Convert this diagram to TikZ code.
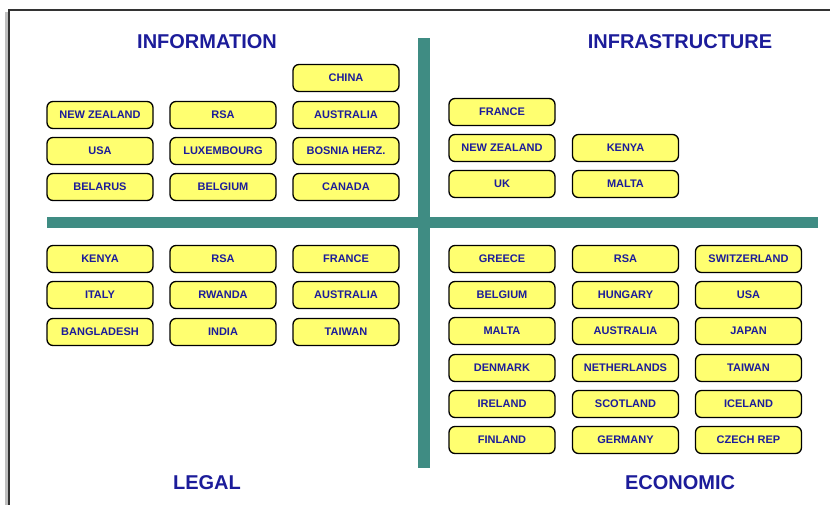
\documentclass[tikz,border=0pt]{standalone}
\usepackage{fontspec}
\setmainfont{Liberation Sans}
\definecolor{teal1}{HTML}{3F8C83}
\definecolor{boxyellow}{HTML}{FFFF70}
\definecolor{navy}{HTML}{1C1C9A}
\begin{document}
\begin{tikzpicture}[x=1pt,y=-1pt,
  country/.style={draw=black,line width=1.3pt,fill=boxyellow,rounded corners=6pt,
    minimum width=106pt,minimum height=27pt,inner sep=0pt,
    font=\fontsize{11}{12}\selectfont\bfseries,text=navy},
  title/.style={font=\fontsize{20}{22}\selectfont\bfseries,text=navy,inner sep=0pt},
  bar/.style={fill=teal1,draw=none}]
\useasboundingbox (0,0) rectangle (830,505);
% frame
\fill[black!25] (5,12) rectangle (8.5,505);
\draw[black!80,line width=1.6pt] (9,505) -- (9,10) -- (830,10);
% bars
\fill[bar] (418,38) rectangle (430,468);
\fill[bar] (47,217) rectangle (818,228);
% titles
\node[title] (tinfo) at (207,42) {INFORMATION};
\node[title] (tinfra) at (680,42) {INFRASTRUCTURE};
\node[title] (tlegal) at (207,483) {LEGAL};
\node[title] (tecon) at (680,483) {ECONOMIC};
% information
\node[country] (i1) at (346,78) {CHINA};
\node[country] (i2) at (100,115) {NEW ZEALAND};
\node[country] (i3) at (223,115) {RSA};
\node[country] (i4) at (346,115) {AUSTRALIA};
\node[country] (i5) at (100,151) {USA};
\node[country] (i6) at (223,151) {LUXEMBOURG};
\node[country] (i7) at (346,151) {BOSNIA HERZ.};
\node[country] (i8) at (100,187) {BELARUS};
\node[country] (i9) at (223,187) {BELGIUM};
\node[country] (i10) at (346,187) {CANADA};
% infrastructure
\node[country] (f1) at (502,112) {FRANCE};
\node[country] (f2) at (502,148) {NEW ZEALAND};
\node[country] (f3) at (625.5,148) {KENYA};
\node[country] (f4) at (502,184) {UK};
\node[country] (f5) at (625.5,184) {MALTA};
% legal
\node[country] (l1) at (100,259) {KENYA};
\node[country] (l2) at (223,259) {RSA};
\node[country] (l3) at (346,259) {FRANCE};
\node[country] (l4) at (100,295) {ITALY};
\node[country] (l5) at (223,295) {RWANDA};
\node[country] (l6) at (346,295) {AUSTRALIA};
\node[country] (l7) at (100,332) {BANGLADESH};
\node[country] (l8) at (223,332) {INDIA};
\node[country] (l9) at (346,332) {TAIWAN};
% economic
\node[country] (e1) at (502,259) {GREECE};
\node[country] (e2) at (625.5,259) {RSA};
\node[country] (e3) at (748.5,259) {SWITZERLAND};
\node[country] (e4) at (502,295) {BELGIUM};
\node[country] (e5) at (625.5,295) {HUNGARY};
\node[country] (e6) at (748.5,295) {USA};
\node[country] (e7) at (502,331) {MALTA};
\node[country] (e8) at (625.5,331) {AUSTRALIA};
\node[country] (e9) at (748.5,331) {JAPAN};
\node[country] (e10) at (502,368) {DENMARK};
\node[country] (e11) at (625.5,368) {NETHERLANDS};
\node[country] (e12) at (748.5,368) {TAIWAN};
\node[country] (e13) at (502,404) {IRELAND};
\node[country] (e14) at (625.5,404) {SCOTLAND};
\node[country] (e15) at (748.5,404) {ICELAND};
\node[country] (e16) at (502,440) {FINLAND};
\node[country] (e17) at (625.5,440) {GERMANY};
\node[country] (e18) at (748.5,440) {CZECH REP};
\end{tikzpicture}
\end{document}
